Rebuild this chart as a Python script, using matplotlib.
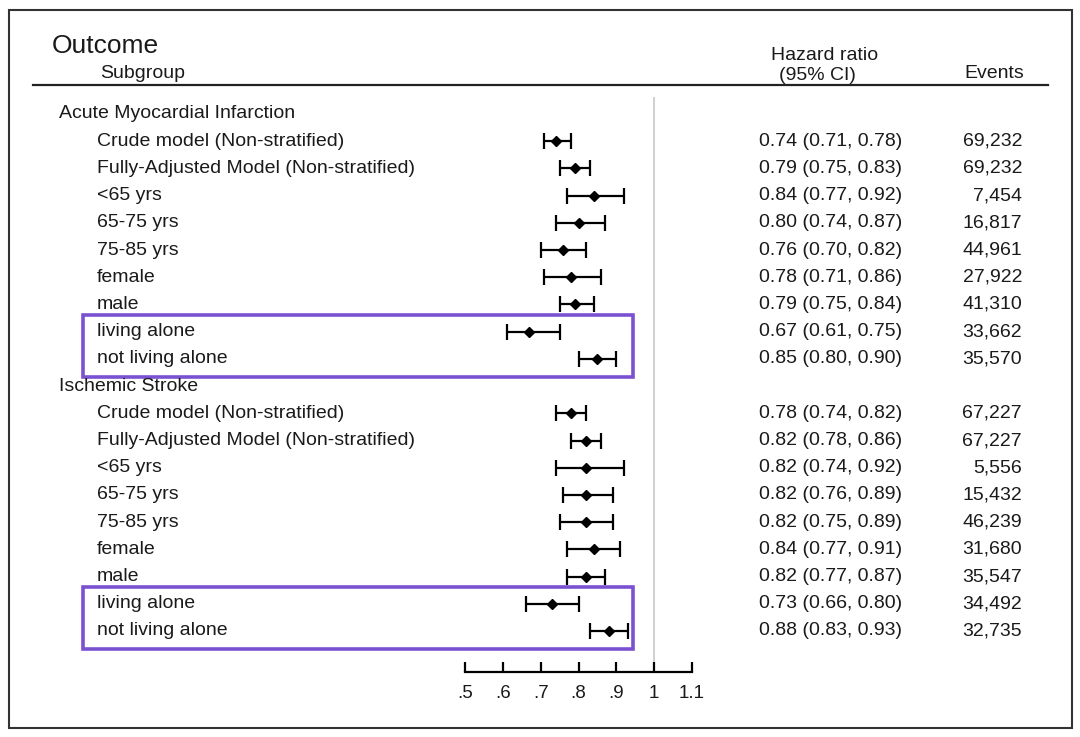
import matplotlib
matplotlib.use("Agg")
import matplotlib.pyplot as plt
import matplotlib.transforms as mtransforms
from matplotlib.patches import Rectangle

plt.rcParams['font.family'] = ['Liberation Sans', 'DejaVu Sans']

# data
outcomes = ["Acute Myocardial Infarction", "Ischemic Stroke"]
subgroups = ["Crude model (Non-stratified)", "Fully-Adjusted Model (Non-stratified)",
             "<65 yrs", "65-75 yrs", "75-85 yrs", "female", "male",
             "living alone", "not living alone"]
ami_hr = [0.74, 0.79, 0.84, 0.80, 0.76, 0.78, 0.79, 0.67, 0.85]
ami_lo = [0.71, 0.75, 0.77, 0.74, 0.70, 0.71, 0.75, 0.61, 0.80]
ami_hi = [0.78, 0.83, 0.92, 0.87, 0.82, 0.86, 0.84, 0.75, 0.90]
ami_events = ["69,232", "69,232", "7,454", "16,817", "44,961", "27,922", "41,310", "33,662", "35,570"]
is_hr = [0.78, 0.82, 0.82, 0.82, 0.82, 0.84, 0.82, 0.73, 0.88]
is_lo = [0.74, 0.78, 0.74, 0.76, 0.75, 0.77, 0.77, 0.66, 0.83]
is_hi = [0.82, 0.86, 0.92, 0.89, 0.89, 0.91, 0.87, 0.80, 0.93]
is_events = ["67,227", "67,227", "5,556", "15,432", "46,239", "31,680", "35,547", "34,492", "32,735"]
xticks = [0.5, 0.6, 0.7, 0.8, 0.9, 1.0, 1.1]
xticklabels = [".5", ".6", ".7", ".8", ".9", "1", "1.1"]

W, H = 1080, 737
fig = plt.figure(figsize=(W / 100, H / 100), dpi=100)
txt = "#1a1a1a"

# forest axes: x spans .5 to 1.1, y in row units
ax = fig.add_axes([465 / W, (H - 672) / H, 227 / W, (672 - 97) / H])
step = 27.21
ax.set_xlim(0.5, 1.1)
ax.set_ylim((672 - 114) / step, -(114 - 97) / step)
for s in ["top", "left", "right"]:
    ax.spines[s].set_visible(False)
ax.spines["bottom"].set_linewidth(1.6)
ax.set_yticks([])
ax.set_xticks(xticks)
ax.set_xticklabels(xticklabels)
ax.tick_params(axis="x", direction="in", length=7, width=1.6, pad=9, labelsize=13.5,
               labelcolor=txt)
ax.axvline(1.0, ymin=0.012, ymax=1, color="#c8c8c8", lw=1.2, zorder=0)

trans = mtransforms.blended_transform_factory(fig.transFigure, ax.transData)
fs = 14

row = 0
groups = [(ami_hr, ami_lo, ami_hi, ami_events), (is_hr, is_lo, is_hi, is_events)]
for name, (hr, lo, hi, ev) in zip(outcomes, groups):
    ax.text(59 / W, row, name, transform=trans, ha="left", va="center", fontsize=fs, color=txt)
    row += 1
    for i, sg in enumerate(subgroups):
        y = row + i
        ax.errorbar(hr[i], y, xerr=[[hr[i] - lo[i]], [hi[i] - hr[i]]], fmt="D",
                    color="black", ms=5.5, elinewidth=1.6, capsize=6, capthick=1.6)
        ax.text(97 / W, y, sg, transform=trans, ha="left", va="center", fontsize=fs, color=txt)
        ax.text(759 / W, y, f"{hr[i]:.2f} ({lo[i]:.2f}, {hi[i]:.2f})", transform=trans,
                ha="left", va="center", fontsize=fs, color=txt)
        ax.text(1022 / W, y, ev[i], transform=trans, ha="right", va="center", fontsize=fs, color=txt)
    # highlight living alone / not living alone
    y0 = row + 7 - 0.6
    box = Rectangle((83 / W, y0), (633 - 83) / W, 1 + 0.6 + 0.68, transform=trans,
                    fill=False, ec="#7a52d1", lw=2.6, clip_on=False)
    ax.add_patch(box)
    row += len(subgroups)

# header
fig.text(52 / W, 1 - 46 / H, "Outcome", fontsize=19, ha="left", va="center", color=txt)
fig.text(100 / W, 1 - 74 / H, "Subgroup", fontsize=14, ha="left", va="center", color=txt)
fig.text(825 / W, 1 - 56 / H, "Hazard ratio", fontsize=14, ha="center", va="center", color=txt)
fig.text(817 / W, 1 - 75 / H, "(95% CI)", fontsize=14, ha="center", va="center", color=txt)
fig.text(1024 / W, 1 - 74 / H, "Events", fontsize=14, ha="right", va="center", color=txt)
fig.add_artist(plt.Line2D([33 / W, 1048 / W], [1 - 85 / H, 1 - 85 / H], color="#222222", lw=1.6,
                          transform=fig.transFigure))

# outer frame
fig.add_artist(Rectangle((9 / W, 1 - 728 / H), (1072 - 9) / W, (728 - 10) / H, transform=fig.transFigure,
                         fill=False, ec="#333333", lw=1.5))

fig.savefig("out.png", dpi=100)
